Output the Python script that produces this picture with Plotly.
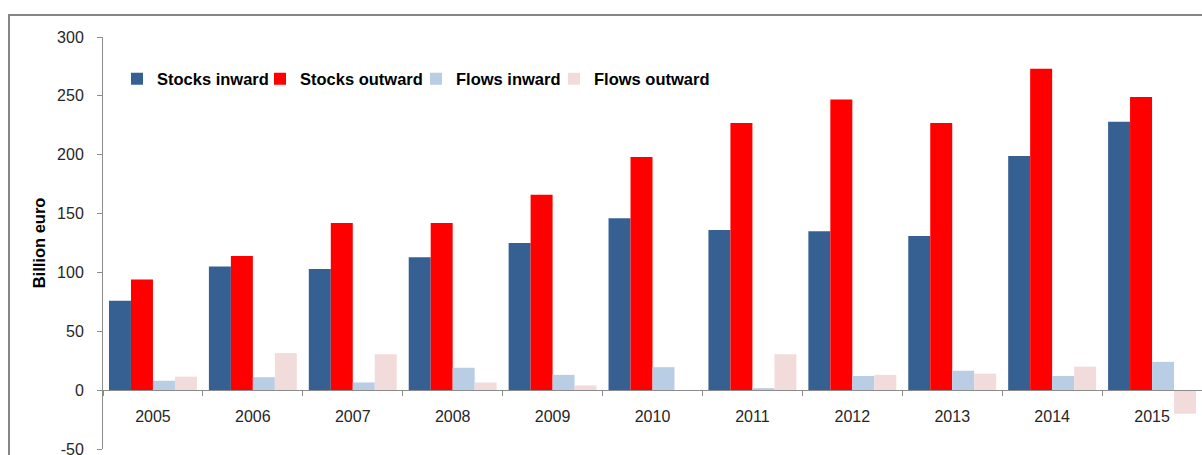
import plotly.graph_objects as go

years = ["2005", "2006", "2007", "2008", "2009", "2010", "2011", "2012", "2013", "2014", "2015"]
stocks_inward = [76, 105, 103, 113, 125, 146, 136, 135, 131, 199, 228]
stocks_outward = [94, 114, 142, 142, 166, 198, 227, 247, 227, 273, 249]
flows_inward = [8, 11, 6.5, 19, 13, 19.5, 1.7, 12, 16.5, 12, 24]
flows_outward = [11.5, 31.5, 30.5, 6.5, 4, -0.6, 30.5, 13, 14, 20, -20]

y_tick_values = [-50, 0, 50, 100, 150, 200, 250, 300]
y_tick_labels = ["-50", "0", "50", "100", "150", "200", "250", "300"]

series_names = ["Stocks inward", "Stocks outward", "Flows inward", "Flows outward"]
series_colors = ["#366092", "#FF0000", "#B9CDE5", "#F2DCDB"]

W, H = 1202, 455
ML, MR, MT, MB = 103, 0, 37, 6
y_min, y_max = -50, 300
FONT = "Liberation Sans, Arial, sans-serif"

plot_w = W - ML - MR
plot_h = H - MT - MB


def px_to_paper_x(px):
    return (px - ML) / plot_w


def px_to_paper_y(py):
    return (H - MB - py) / plot_h


fig = go.Figure()
legend_text_x = [157, 300, 456, 594]
values = [stocks_inward, stocks_outward, flows_inward, flows_outward]
for i, (name, vals, col) in enumerate(zip(series_names, values, series_colors)):
    lg = "legend" if i == 0 else f"legend{i+1}"
    fig.add_trace(go.Bar(
        x=years, y=vals, name=name,
        marker=dict(color=col, line=dict(width=0)),
        legend=lg,
    ))

legend_common = dict(
    orientation="h", xanchor="left", yanchor="middle",
    font=dict(family=FONT, size=16.5, color="#000000", weight="bold"),
    bgcolor="rgba(0,0,0,0)", itemwidth=30,
)
layout_legends = {}
for i, tx in enumerate(legend_text_x):
    key = "legend" if i == 0 else f"legend{i+1}"
    layout_legends[key] = dict(
        legend_common,
        x=px_to_paper_x(tx - 40),
        y=px_to_paper_y(79),
    )

fig.update_layout(
    width=W, height=H,
    margin=dict(l=ML, r=MR, t=MT, b=MB, autoexpand=False),
    paper_bgcolor="white", plot_bgcolor="white",
    barmode="group", bargap=0.12, bargroupgap=0,
    showlegend=True,
    font=dict(family=FONT, size=16, color="#262626"),
    **layout_legends,
    xaxis=dict(
        type="category", categoryorder="array", categoryarray=years,
        anchor="free", position=(0 - y_min) / (y_max - y_min),
        showline=True, linecolor="#8C8C8C", linewidth=1,
        ticks="outside", tickson="boundaries", ticklen=5, tickcolor="#8C8C8C",
        showgrid=False, zeroline=False, automargin=False,
        tickfont=dict(family=FONT, size=16, color="#262626"),
        ticklabelstandoff=12,
    ),
    yaxis=dict(
        range=[y_min, y_max], tickmode="array",
        tickvals=y_tick_values, ticktext=y_tick_labels,
        showline=True, linecolor="#8C8C8C", linewidth=1,
        ticks="outside", ticklen=5, tickcolor="#8C8C8C",
        showgrid=False, zeroline=False, automargin=False,
        tickfont=dict(family=FONT, size=16, color="#262626"),
        ticklabelstandoff=10, ticklabeloverflow="allow",
        title=dict(text="Billion euro", font=dict(family=FONT, size=16.5, color="#000000", weight="bold"), standoff=7),
    ),
    shapes=[dict(
        type="rect", xref="paper", yref="paper",
        x0=px_to_paper_x(9), x1=px_to_paper_x(W + 20),
        y0=px_to_paper_y(H + 20), y1=px_to_paper_y(15),
        line=dict(color="#868686", width=2), fillcolor="rgba(0,0,0,0)",
        layer="below",
    )],
)

fig.write_html("out.html")
